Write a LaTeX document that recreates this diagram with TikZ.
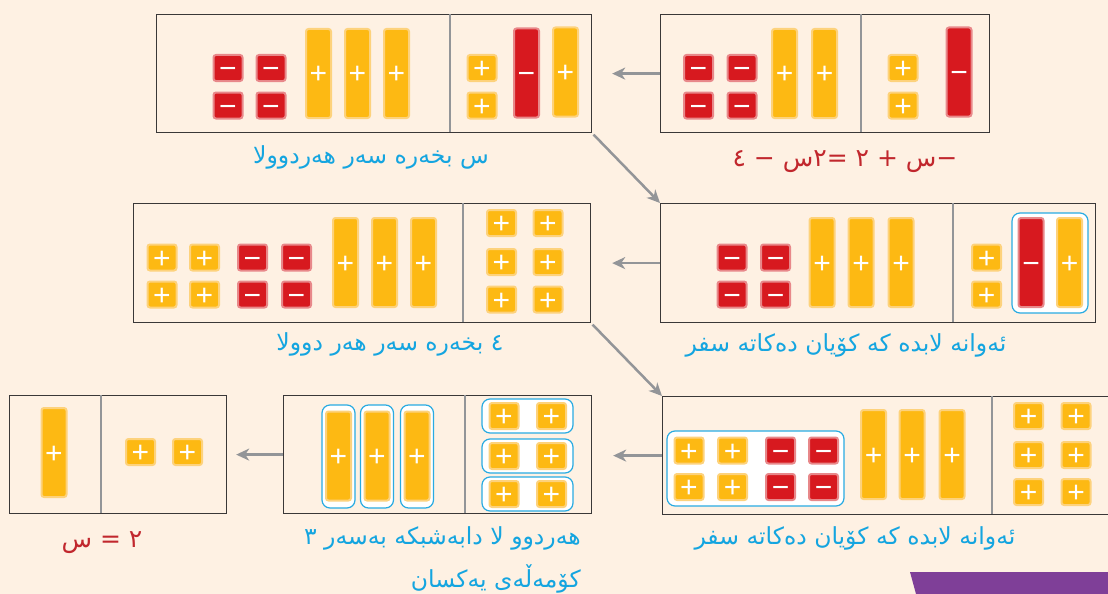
\documentclass[tikz,border=0pt]{standalone}
\usepackage{fontspec}
\usepackage{xcolor}
\usepackage{tikz}
\usetikzlibrary{arrows.meta,positioning}
\TeXXeTstate=1
\newfontfamily\kurdfont[Script=Arabic]{DejaVu Sans}
\newfontfamily\signfont{Liberation Sans}
\definecolor{paper}{HTML}{FEF1E3}
\definecolor{boxline}{HTML}{3A3838}
\definecolor{rulegray}{HTML}{939598}
\definecolor{tileyellow}{HTML}{FDB913}
\definecolor{yellowglow}{HTML}{FDD27C}
\definecolor{tilered}{HTML}{D7191F}
\definecolor{redglow}{HTML}{E8888A}
\definecolor{ringblue}{HTML}{29ABE2}
\definecolor{capblue}{HTML}{14A5E0}
\definecolor{capred}{HTML}{C1272D}
\definecolor{tabpurple}{HTML}{7F3F98}
\tikzset{
    panel/.style={draw=boxline,line width=1.2pt,anchor=north west,inner sep=0pt},
    divider/.style={draw=rulegray,line width=2pt},
    tilebase/.style={rounded corners=2.5pt,line width=2pt,inner sep=0pt,text=white,
      font=\signfont\fontsize{30}{30}\selectfont,text height=21pt,text depth=0pt},
    onetile/.style={tilebase,fill=tileyellow,draw=yellowglow,
      minimum width=29pt,minimum height=26pt},
    negone/.style={tilebase,fill=tilered,draw=redglow,
      minimum width=29pt,minimum height=26pt},
    xtile/.style={tilebase,fill=tileyellow,draw=yellowglow,
      minimum width=25pt,minimum height=89pt},
    negx/.style={tilebase,fill=tilered,draw=redglow,
      minimum width=25pt,minimum height=89pt},
    ring/.style={draw=ringblue,fill=white,line width=1.2pt,rounded corners=8pt,inner sep=0pt},
    flowarrow/.style={-{Stealth[length=13pt,width=12pt,inset=4pt]},draw=rulegray,
      line width=2.5pt},
    caption/.style={font=\kurdfont\fontsize{23.5}{28}\selectfont,text=capblue,
      inner sep=0pt,anchor=base},
    equation/.style={caption,text=capred,font=\kurdfont\fontsize{25}{30}\selectfont}
}
\begin{document}
\begin{tikzpicture}[x=1pt,y=-1pt]
  \path[use as bounding box,fill=paper] (0,0) rectangle (1108,594);
  \clip (0,0) rectangle (1108,594);

  % -x + 2 = 2x - 4
  \node[panel,minimum width=329pt,minimum height=118pt] (given) at (660,14) {};
  \draw[divider] (861,14) -- (861,132);
  \foreach \x [count=\i] in {698.5,742}
    \foreach \y [count=\j] in {68,105.5}
      \node[negone] (given-n\i\j) at (\x,\y) {−};
  \foreach \x [count=\i] in {784.5,824.5}
    \node[xtile] (given-x\i) at (\x,73.5) {+};
  \foreach \y [count=\j] in {68,105.5}
    \node[onetile] (given-u\j) at (903,\y) {+};
  \node[negx] (given-nx) at (959,72) {−};
  \node[equation] (given-eq) at (845,166) {\beginR −س + ٢ =٢س − ٤\endR};

  % add x
  \node[panel,minimum width=435pt,minimum height=118pt] (addx) at (156,14) {};
  \draw[divider] (450,14) -- (450,132);
  \foreach \x [count=\i] in {228,271}
    \foreach \y [count=\j] in {68,105.5}
      \node[negone] (addx-n\i\j) at (\x,\y) {−};
  \foreach \x [count=\i] in {318.5,357.5,396.5}
    \node[xtile] (addx-x\i) at (\x,73.5) {+};
  \foreach \y [count=\j] in {68,105.5}
    \node[onetile] (addx-u\j) at (482,\y) {+};
  \node[negx] (addx-nx) at (526.5,73) {−};
  \node[xtile] (addx-px) at (565.5,72) {+};
  \node[caption] (addx-cap) at (371,163) {\beginR س بخەرە سەر هەردوولا\endR};

  % cancel the zero pair
  \node[panel,minimum width=435pt,minimum height=119pt] (cancel) at (660,203) {};
  \draw[divider] (953,203) -- (953,322);
  \foreach \x [count=\i] in {732,775.5}
    \foreach \y [count=\j] in {257.5,294.5}
      \node[negone] (cancel-n\i\j) at (\x,\y) {−};
  \foreach \x [count=\i] in {822,861,901}
    \node[xtile] (cancel-x\i) at (\x,262.5) {+};
  \foreach \y [count=\j] in {257.5,294.5}
    \node[onetile] (cancel-u\j) at (986.5,\y) {+};
  \node[ring,minimum width=76pt,minimum height=100pt] (cancel-ring) at (1050,263) {};
  \node[negx] (cancel-nx) at (1031,262.5) {−};
  \node[xtile] (cancel-px) at (1069.5,262.5) {+};
  \node[caption] (cancel-cap) at (846,351) {\beginR ئەوانە لابدە کە کۆیان دەکاتە سفر\endR};

  % add 4
  \node[panel,minimum width=457pt,minimum height=119pt] (addfour) at (133,203) {};
  \draw[divider] (463,203) -- (463,322);
  \foreach \x [count=\i] in {162,204.5}
    \foreach \y [count=\j] in {257.5,294.5}
      \node[onetile] (addfour-u\i\j) at (\x,\y) {+};
  \foreach \x [count=\i] in {252.5,296.5}
    \foreach \y [count=\j] in {257.5,294.5}
      \node[negone] (addfour-n\i\j) at (\x,\y) {−};
  \foreach \x [count=\i] in {345.5,384.5,423.5}
    \node[xtile] (addfour-x\i) at (\x,262.5) {+};
  \foreach \x [count=\i] in {501.5,548}
    \foreach \y [count=\j] in {223,262,299.5}
      \node[onetile] (addfour-r\i\j) at (\x,\y) {+};
  \node[caption] (addfour-cap) at (390,350) {\beginR ٤ بخەرە سەر هەر دوولا\endR};

  % cancel again
  \node[panel,minimum width=460pt,minimum height=118pt] (cancelb) at (662,396) {};
  \draw[divider] (992,396) -- (992,514);
  \node[ring,minimum width=177pt,minimum height=75pt] (cancelb-ring) at (755.5,468.5) {};
  \foreach \x [count=\i] in {689,732.5}
    \foreach \y [count=\j] in {450.5,487}
      \node[onetile] (cancelb-u\i\j) at (\x,\y) {+};
  \foreach \x [count=\i] in {780.5,823.5}
    \foreach \y [count=\j] in {450.5,487}
      \node[negone] (cancelb-n\i\j) at (\x,\y) {−};
  \foreach \x [count=\i] in {873.5,912,952}
    \node[xtile] (cancelb-x\i) at (\x,454.5) {+};
  \foreach \x [count=\i] in {1028.5,1076}
    \foreach \y [count=\j] in {416,455,492}
      \node[onetile] (cancelb-r\i\j) at (\x,\y) {+};
  \node[caption] (cancelb-cap) at (855,544) {\beginR ئەوانە لابدە کە کۆیان دەکاتە سفر\endR};

  % split into 3 groups
  \node[panel,minimum width=308pt,minimum height=118pt] (divide) at (283,395) {};
  \draw[divider] (465,395) -- (465,513);
  \foreach \x [count=\i] in {338.5,377,417} {
    \node[ring,minimum width=33pt,minimum height=103pt] (divide-g\i) at (\x,456.5) {};
    \node[xtile] (divide-x\i) at (\x,456) {+};
  }
  \foreach \y [count=\j] in {416,456,494} {
    \node[ring,minimum width=91pt,minimum height=34pt] (divide-h\j) at (527.5,\y) {};
    \node[onetile] (divide-a\j) at (504,\y) {+};
    \node[onetile] (divide-b\j) at (551.5,\y) {+};
  }
  \node[caption,anchor=base east] (divide-cap) at (581,544) {\beginR هەردوو لا دابەشبکە بەسەر ٣\endR};
  \node[caption,anchor=base east] (divide-cap2) at (581,587) {\beginR کۆمەڵەی یەکسان\endR};

  % x = 2
  \node[panel,minimum width=217pt,minimum height=118pt] (result) at (9,395) {};
  \draw[divider] (101,395) -- (101,513);
  \node[xtile] (result-x) at (54,452.5) {+};
  \foreach \x [count=\i] in {140.5,187.5}
    \node[onetile] (result-u\i) at (\x,452) {+};
  \node[equation] (result-eq) at (102,547) {\beginR ٢ = س\endR};

  % arrows
  \draw[flowarrow,shorten >=20pt] (given.west) -- (addx.east);
  \draw[flowarrow,shorten <=2pt] (addx.south east) -- (cancel.north west);
  \draw[flowarrow,shorten >=21pt] (cancel.west) -- (addfour.east);
  \draw[flowarrow,shorten <=2pt] (addfour.south east) -- (cancelb.north west);
  \draw[flowarrow,shorten >=21pt] (cancelb.west) -- (cancelb.west -| divide.east);
  \draw[flowarrow,shorten >=9pt] (divide.west) -- (result.east);

  \fill[tabpurple] (910,572) -- (1108,572) -- (1108,594) -- (916,594) -- cycle;
\end{tikzpicture}
\end{document}
